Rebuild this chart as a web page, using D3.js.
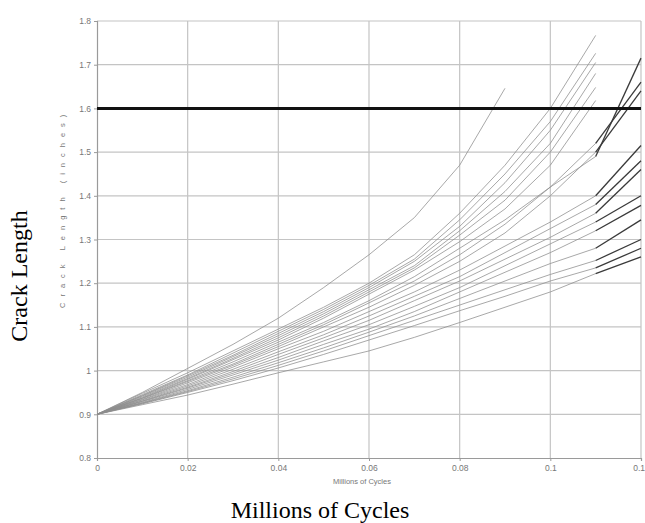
<!DOCTYPE html>
<html>
<head>
<meta charset="utf-8">
<script src="https://cdn.jsdelivr.net/npm/d3@7"></script>
<style>
  html, body { margin: 0; padding: 0; background: #fff; }
  svg { display: block; }
</style>
</head>
<body>
<svg id="chart" width="645" height="523"></svg>
<script>
// ---------- data ----------
const cycles = [0, 0.01, 0.02, 0.03, 0.04, 0.05, 0.06, 0.07, 0.08, 0.09, 0.10, 0.11];
const tailCycle = 0.12;
const threshold = 1.6;

// crack length simulations (values at each entry of `cycles`)
const curveEarlyFail = [0.9, 0.95, 1.005, 1.06, 1.12, 1.19, 1.265, 1.35, 1.47, 1.646];
const curvesHigh = [
  [0.9, 0.948, 0.995, 1.045, 1.095, 1.145, 1.20, 1.265, 1.36, 1.47, 1.60, 1.767],
  [0.9, 0.945, 0.99, 1.04, 1.09, 1.14, 1.195, 1.255, 1.345, 1.45, 1.57, 1.726],
  [0.9, 0.943, 0.988, 1.035, 1.085, 1.135, 1.19, 1.25, 1.33, 1.43, 1.55, 1.705],
  [0.9, 0.942, 0.985, 1.032, 1.08, 1.13, 1.185, 1.24, 1.32, 1.41, 1.52, 1.68],
  [0.9, 0.94, 0.982, 1.028, 1.075, 1.125, 1.18, 1.235, 1.31, 1.39, 1.50, 1.648],
  [0.9, 0.938, 0.98, 1.025, 1.07, 1.12, 1.175, 1.23, 1.295, 1.37, 1.47, 1.618]
];
const curvesLow = [
  [0.9, 0.937, 0.977, 1.02, 1.065, 1.11, 1.16, 1.215, 1.28, 1.345, 1.42, 1.49],
  [0.9, 0.936, 0.975, 1.015, 1.06, 1.105, 1.155, 1.205, 1.265, 1.335, 1.42, 1.52],
  [0.9, 0.934, 0.972, 1.012, 1.055, 1.10, 1.145, 1.195, 1.25, 1.315, 1.40, 1.50],
  [0.9, 0.933, 0.968, 1.008, 1.05, 1.09, 1.135, 1.18, 1.23, 1.285, 1.34, 1.40],
  [0.9, 0.931, 0.965, 1.003, 1.043, 1.082, 1.125, 1.17, 1.215, 1.27, 1.325, 1.38],
  [0.9, 0.93, 0.962, 0.998, 1.037, 1.075, 1.115, 1.16, 1.205, 1.255, 1.305, 1.36],
  [0.9, 0.929, 0.96, 0.994, 1.03, 1.068, 1.105, 1.147, 1.19, 1.24, 1.29, 1.34],
  [0.9, 0.927, 0.957, 0.99, 1.024, 1.06, 1.095, 1.135, 1.18, 1.225, 1.27, 1.32],
  [0.9, 0.926, 0.954, 0.985, 1.018, 1.052, 1.088, 1.125, 1.165, 1.205, 1.245, 1.28],
  [0.9, 0.925, 0.952, 0.981, 1.012, 1.045, 1.08, 1.115, 1.15, 1.185, 1.22, 1.252],
  [0.9, 0.924, 0.95, 0.977, 1.006, 1.037, 1.07, 1.103, 1.137, 1.17, 1.205, 1.235],
  [0.9, 0.922, 0.944, 0.969, 0.995, 1.02, 1.045, 1.076, 1.11, 1.145, 1.18, 1.222]
];
// crack length at 0.12 for the curves in curvesLow (dark final segments)
const tailEnds = [1.715, 1.66, 1.64, 1.515, 1.48, 1.46, 1.40, 1.378, 1.345, 1.30, 1.28, 1.26];

const xTicks = [0, 0.02, 0.04, 0.06, 0.08, 0.1, 0.12];
const xTickLabels = ["0", "0.02", "0.04", "0.06", "0.08", "0.1", "0.12"];
const yTicks = [0.8, 0.9, 1.0, 1.1, 1.2, 1.3, 1.4, 1.5, 1.6, 1.7, 1.8];
const yTickLabels = ["0.8", "0.9", "1", "1.1", "1.2", "1.3", "1.4", "1.5", "1.6", "1.7", "1.8"];

// ---------- drawing ----------
const svg = d3.select("#chart");
const x = d3.scaleLinear().domain([0, 0.12]).range([97, 641]);
const y = d3.scaleLinear().domain([0.8, 1.8]).range([458, 21]);

// grid
const grid = svg.append("g");
grid.selectAll("line.v").data(xTicks.slice(1)).join("line")
  .attr("x1", d => x(d)).attr("x2", d => x(d))
  .attr("y1", y(0.8)).attr("y2", y(1.8))
  .attr("stroke", "#c4c4c4").attr("stroke-width", 1.2);
grid.selectAll("line.h").data(yTicks.slice(1)).join("line")
  .attr("x1", x(0)).attr("x2", x(0.12))
  .attr("y1", d => y(d)).attr("y2", d => y(d))
  .attr("stroke", "#c4c4c4").attr("stroke-width", 1.2);

// axes
const xAxis = d3.axisBottom(x).tickValues(xTicks)
  .tickFormat((d, i) => xTickLabels[i]).tickSize(3).tickPadding(4);
const yAxis = d3.axisLeft(y).tickValues(yTicks)
  .tickFormat((d, i) => yTickLabels[i]).tickSize(3).tickPadding(3);

const gx = svg.append("g").attr("transform", `translate(0,${y(0.8)})`).call(xAxis);
const gy = svg.append("g").attr("transform", `translate(${x(0)},0)`).call(yAxis);
[gx, gy].forEach(g => {
  g.select(".domain").attr("stroke", "#9a9a9a").attr("stroke-width", 1.2);
  g.selectAll(".tick line").attr("stroke", "#9a9a9a");
  g.selectAll(".tick text").attr("fill", "#777").attr("font-size", 8.5)
    .attr("font-family", "Liberation Sans, Arial, sans-serif");
});

// curves
const line = d3.line().x((d, i) => x(cycles[i])).y(d => y(d));
const allGray = [curveEarlyFail, ...curvesHigh, ...curvesLow];
svg.append("g").selectAll("path").data(allGray).join("path")
  .attr("d", d => line(d))
  .attr("fill", "none").attr("stroke", "#8c8c8c").attr("stroke-width", 0.9)
  .attr("stroke-opacity", 0.85);

// dark final segments 0.11 -> 0.12
svg.append("g").selectAll("line").data(curvesLow).join("line")
  .attr("x1", x(cycles[cycles.length - 1]))
  .attr("y1", d => y(d[d.length - 1]))
  .attr("x2", x(tailCycle))
  .attr("y2", (d, i) => y(tailEnds[i]))
  .attr("stroke", "#3a3a3a").attr("stroke-width", 1.3);

// threshold
svg.append("line")
  .attr("x1", x(0)).attr("x2", x(0.12))
  .attr("y1", y(threshold)).attr("y2", y(threshold))
  .attr("stroke", "#111").attr("stroke-width", 3);

// inner axis titles
svg.append("text")
  .attr("x", 362).attr("y", 484)
  .attr("text-anchor", "middle")
  .attr("font-family", "Liberation Sans, Arial, sans-serif")
  .attr("font-size", 7.5).attr("fill", "#777")
  .text("Millions of Cycles");

svg.append("text")
  .attr("transform", "translate(65,308) rotate(-90)")
  .attr("text-anchor", "start")
  .attr("font-family", "Liberation Sans, Arial, sans-serif")
  .attr("font-size", 7.5).attr("fill", "#777")
  .attr("letter-spacing", 6)
  .text("Crack Length (inches)");

// outer titles
svg.append("text")
  .attr("x", 320).attr("y", 518)
  .attr("text-anchor", "middle")
  .attr("font-family", "Liberation Serif, Times New Roman, serif")
  .attr("font-size", 24).attr("fill", "#000")
  .text("Millions of Cycles");

svg.append("text")
  .attr("transform", "translate(27,276) rotate(-90)")
  .attr("text-anchor", "middle")
  .attr("font-family", "Liberation Serif, Times New Roman, serif")
  .attr("font-size", 24).attr("fill", "#000")
  .text("Crack Length");
</script>
</body>
</html>
